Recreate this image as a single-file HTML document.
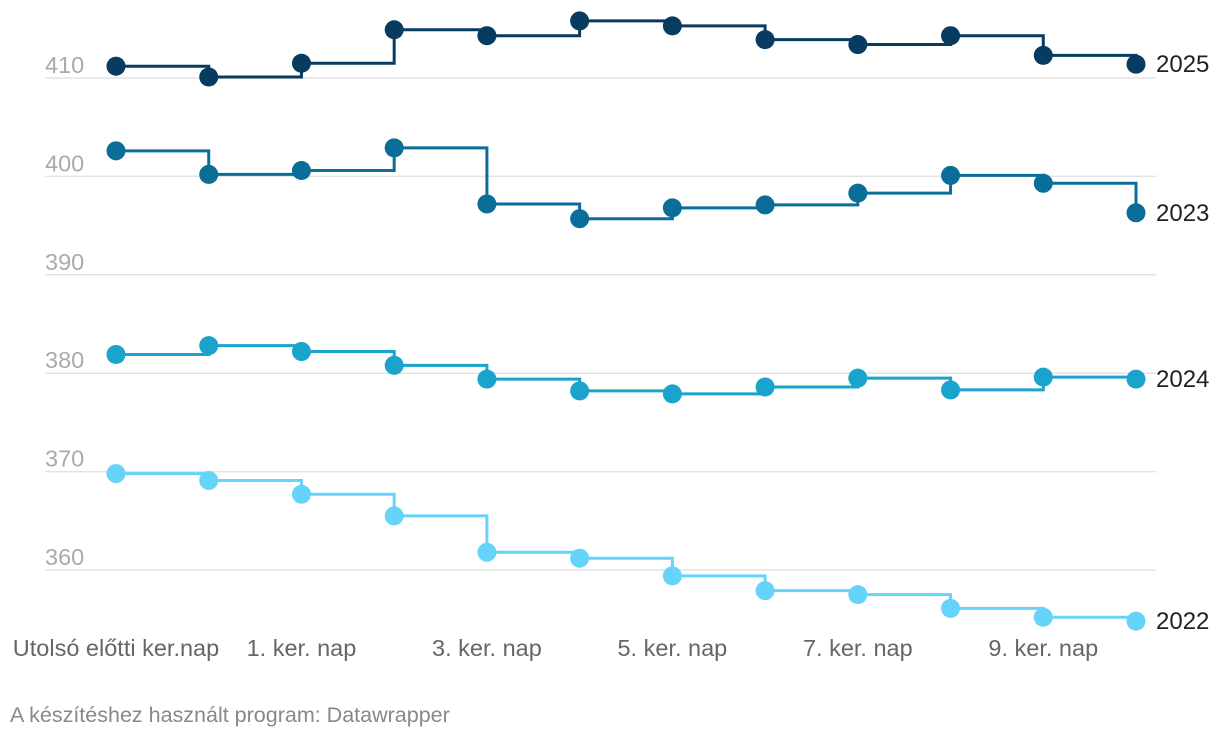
<!DOCTYPE html>
<html><head><meta charset="utf-8"><style>
body{margin:0;background:#fff;font-family:"Liberation Sans",sans-serif}
svg{display:block}
</style></head><body>
<svg id="chart" width="1220" height="738">
<g id="grid"></g><g id="series"></g><g id="xlabels"></g>
<text x="10" y="722" font-size="21.5" fill="#888">A készítéshez használt program: Datawrapper</text>
</svg>
<script>
const categories=["Utolsó előtti ker.nap","Utolsó ker.nap","1. ker. nap","2. ker. nap","3. ker. nap","4. ker. nap","5. ker. nap","6. ker. nap","7. ker. nap","8. ker. nap","9. ker. nap","10. ker. nap"];
const shownLabels=[0,2,4,6,8,10];
const yTicks=[360,370,380,390,400,410];
const seriesNames=["2025","2023","2024","2022"];
const v2025=[411.2,410.1,411.5,414.9,414.3,415.8,415.3,413.9,413.4,414.3,412.3,411.4];
const v2023=[402.6,400.2,400.6,402.9,397.2,395.7,396.8,397.1,398.3,400.1,399.3,396.3];
const v2024=[381.9,382.8,382.2,380.8,379.4,378.2,377.9,378.6,379.5,378.3,379.6,379.4];
const v2022=[369.8,369.1,367.7,365.5,361.8,361.2,359.4,357.9,357.5,356.1,355.2,354.8];
const colors=["#073b60","#0a6e99","#1aa3cc","#66d4fa"];
const NS="http://www.w3.org/2000/svg";
const x=i=>116+i*(1136-116)/(categories.length-1);
const y=v=>78+(410-v)*9.84;
function mk(t,a,p){const e=document.createElementNS(NS,t);for(const k in a)e.setAttribute(k,a[k]);p.appendChild(e);return e;}
const grid=document.getElementById('grid');
yTicks.forEach(t=>{
 const l=mk('line',{x1:45,x2:1156,y1:y(t),y2:y(t),stroke:'#e3e3e3','stroke-width':1.5},grid);
 
 
 const tx=mk('text',{x:45,y:y(t)-5,'font-size':23.5,fill:'#aaa'},grid);
 tx.textContent=t;
 
 
});
const xl=document.getElementById('xlabels');
shownLabels.forEach(i=>{
 const tx=mk('text',{x:x(i),y:656,'font-size':23.5,fill:'#666','text-anchor':'middle'},xl);
 tx.textContent=categories[i];
 
 
});
const sg=document.getElementById('series');
[v2025,v2023,v2024,v2022].forEach((vals,s)=>{
 const g=mk('g',{},sg);
 
 
 let d='M'+x(0)+','+y(vals[0]);
 for(let i=1;i<vals.length;i++)d+=' H'+x(i)+' V'+y(vals[i]);
 const p=mk('path',{d:d,fill:'none',stroke:colors[s],'stroke-width':3},g);
 
 
 vals.forEach((v,i)=>{
  const c=mk('circle',{cx:x(i),cy:y(v),r:9.5,fill:colors[s]},g);
  
  
 });
 const lb=mk('text',{x:1156,y:y(vals[vals.length-1])+8,'font-size':24,fill:'#222'},g);
 lb.textContent=seriesNames[s];
 
 
});
</script>
</body></html>
